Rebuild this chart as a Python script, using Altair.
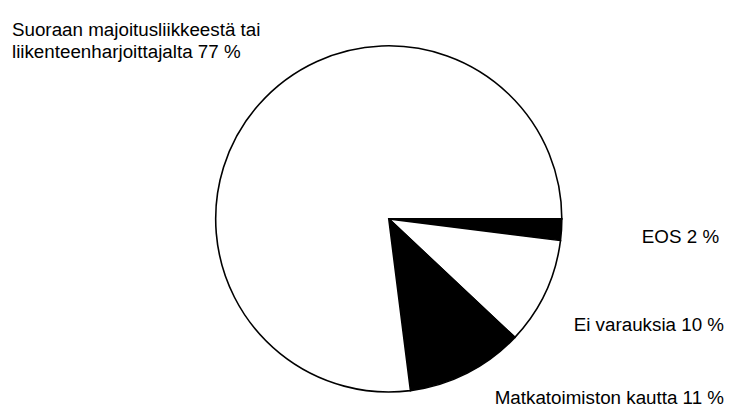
import math
import altair as alt
import pandas as pd

categories = ["EOS", "Ei varauksia", "Matkatoimiston kautta",
              "Suoraan majoitusliikkeestä tai liikenteenharjoittajalta"]
values = [2, 10, 11, 77]
order = [1, 2, 3, 4]
fills = ["black", "white", "black", "white"]

df = pd.DataFrame({"category": categories, "value": values, "order": order})
df["label"] = [f"{c} {v} %" for c, v in zip(categories, values)]
df.loc[3, "label"] = f"Suoraan majoitusliikkeestä tai\nliikenteenharjoittajalta {values[3]} %"

base = alt.Chart(df)

pie = base.mark_arc(stroke="black", strokeWidth=1.6).encode(
    theta=alt.Theta("value:Q", stack=True,
                    scale=alt.Scale(range=[math.pi / 2, math.pi / 2 + 2 * math.pi])),
    order=alt.Order("order:Q"),
    color=alt.Color("category:N", scale=alt.Scale(domain=categories, range=fills), legend=None),
    x=alt.value(385), y=alt.value(211), radius=alt.value(175),
)

font = "Liberation Sans"
fs = 19

def label(cat, x, y, align):
    return base.transform_filter(alt.datum.category == cat).mark_text(
        font=font, fontSize=fs, align=align, baseline="alphabetic",
        color="black", lineBreak="\n", lineHeight=22,
    ).encode(text="label:N", x=alt.value(x), y=alt.value(y))

chart = alt.layer(
    pie,
    label(categories[3], 4, 26, "left"),
    label(categories[0], 719, 235, "right"),
    label(categories[1], 724, 324, "right"),
    label(categories[2], 724, 398, "right"),
).properties(
    width=727, height=402,
    autosize=alt.AutoSizeParams(type="none"),
    padding=0,
).configure_view(stroke=None)

chart.save("out.html", embed_options={"renderer": "svg", "actions": False})
